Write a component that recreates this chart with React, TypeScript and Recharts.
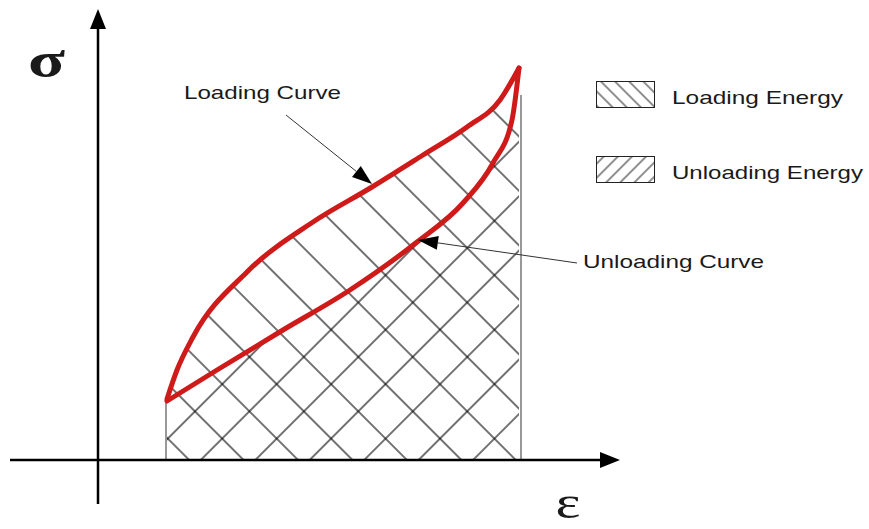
import {
  Area,
  ComposedChart,
  Legend,
  Line,
  ReferenceDot,
  ReferenceLine,
  XAxis,
  YAxis,
} from "recharts";

// loop (strain, stress in arbitrary units)
const loadingStrain = [0.69, 0.79, 0.95, 1.49, 2.15, 2.74, 3.25, 3.69, 4.02, 4.21];
const loadingStress = [0.61, 0.9, 1.23, 1.88, 2.38, 2.73, 3.05, 3.33, 3.6, 3.92];
const unloadingStrain = [0.69, 1.19, 1.85, 2.52, 3.19, 3.65, 3.95, 4.14, 4.21];
const unloadingStress = [0.59, 0.9, 1.3, 1.7, 2.18, 2.57, 2.97, 3.4, 3.92];

// sides of the hatched region
const edgeStrain = [0.68, 4.23];
const edgeStress = [0.6, 3.65];

const X_DOMAIN = [-0.98, 7.71];
const Y_DOMAIN = [-0.69, 4.6];

const legendNames = ["Loading Energy", "Unloading Energy"];
const legendWidths = [171, 191];

const noteTexts = ["Loading Curve", "Unloading Curve"];
const noteAt = [
  { x: 0.86, y: 3.61 },
  { x: 4.85, y: 1.92 },
];
const noteWidths = [157, 181];
const noteArrows = [
  [{ x: 1.88, y: 3.45 }, { x: 2.74, y: 2.76 }],
  [{ x: 4.79, y: 1.97 }, { x: 3.2, y: 2.2 }],
];

const loading = loadingStrain.map((strain, i) => ({ strain, stress: loadingStress[i] }));
const unloading = unloadingStrain.map((strain, i) => ({ strain, stress: unloadingStress[i] }));

const RED = "#cf1a1a";
const HATCH = "#000";
const SANS = "'Liberation Sans', Arial, sans-serif";
const SERIF = "'Liberation Serif', 'Times New Roman', serif";

function arrowShape(width: number, len: number, half: number, color: string) {
  return (p: any) => {
    const { x1, y1, x2, y2 } = p;
    const dx = x2 - x1;
    const dy = y2 - y1;
    const d = Math.hypot(dx, dy) || 1;
    const ux = dx / d;
    const uy = dy / d;
    const bx = x2 - ux * len;
    const by = y2 - uy * len;
    const pts = `${x2},${y2} ${bx - uy * half},${by + ux * half} ${bx + uy * half},${by - ux * half}`;
    return (
      <g>
        <line x1={x1} y1={y1} x2={bx} y2={by} stroke={color} strokeWidth={width} />
        <polygon points={pts} fill="#000" />
      </g>
    );
  };
}

function textShape(value: string, size: number, family: string, fit: number, anchor = "start", weight = "normal") {
  return (p: any) => (
    <text
      x={p.cx}
      y={p.cy}
      fontFamily={family}
      fontSize={size}
      fontWeight={weight}
      fill="#1a1a1a"
      textAnchor={anchor}
      textLength={fit}
      lengthAdjust="spacingAndGlyphs"
    >
      {value}
    </text>
  );
}

function EnergyLegend({ payload }: any) {
  const items = legendNames.filter((n) => (payload ?? []).some((e: any) => e.value === n));
  return (
    <svg width={275} height={110}>
      <defs>
        <pattern id="legendLoad" patternUnits="userSpaceOnUse" width={10} height={10} patternTransform="rotate(-45)">
          <line x1={1} y1={0} x2={1} y2={10} stroke="#222" strokeWidth={1} />
        </pattern>
        <pattern id="legendUnload" patternUnits="userSpaceOnUse" width={10} height={10} patternTransform="rotate(45)">
          <line x1={1} y1={0} x2={1} y2={10} stroke="#222" strokeWidth={1} />
        </pattern>
      </defs>
      {items.map((name, i) => {
        const y = 3 + i * 75;
        const k = legendNames.indexOf(name);
        return (
          <g key={name}>
            <rect
              x={0.5}
              y={y + 0.5}
              width={58}
              height={26}
              fill={k === 0 ? "url(#legendLoad)" : "url(#legendUnload)"}
              stroke="#222"
              strokeWidth={1}
            />
            <text
              x={76}
              y={y + 22.5}
              fontFamily={SANS}
              fontSize={18.5}
              fill="#1a1a1a"
              textLength={legendWidths[k]}
              lengthAdjust="spacingAndGlyphs"
            >
              {name}
            </text>
          </g>
        );
      })}
    </svg>
  );
}

export default function App() {
  return (
    <div style={{ position: "absolute", left: 0, top: 0, background: "#fff" }}>
      <ComposedChart width={869} height={529} margin={{ top: 0, right: 0, bottom: 0, left: 0 }}>
        <defs>
          <pattern id="hatchLoad" patternUnits="userSpaceOnUse" width={38.5} height={38.5} patternTransform="rotate(-45)">
            <line x1={1} y1={0} x2={1} y2={38.5} stroke={HATCH} strokeWidth={1.1} />
          </pattern>
          <pattern
            id="hatchUnload"
            patternUnits="userSpaceOnUse"
            width={38.5}
            height={38.5}
            patternTransform="translate(6,0) rotate(45)"
          >
            <line x1={1} y1={0} x2={1} y2={38.5} stroke={HATCH} strokeWidth={1.1} />
          </pattern>
        </defs>
        <XAxis type="number" dataKey="strain" domain={X_DOMAIN} hide allowDataOverflow />
        <YAxis type="number" domain={Y_DOMAIN} hide allowDataOverflow />

        <Area
          data={loading}
          dataKey="stress"
          name="Loading Energy"
          type="monotone"
          baseValue={0}
          stroke="none"
          fill="url(#hatchLoad)"
          fillOpacity={1}
          dot={false}
          activeDot={false}
          isAnimationActive={false}
        />
        <Area
          data={unloading}
          dataKey="stress"
          name="Unloading Energy"
          type="monotone"
          baseValue={0}
          stroke="none"
          fill="url(#hatchUnload)"
          fillOpacity={1}
          dot={false}
          activeDot={false}
          isAnimationActive={false}
        />

        {edgeStrain.map((x, i) => (
          <ReferenceLine
            key={`edge${i}`}
            segment={[{ x, y: 0 }, { x, y: edgeStress[i] }]}
            stroke="#333"
            strokeWidth={1}
          />
        ))}

        {/* axes with arrow heads */}
        <ReferenceLine
          segment={[{ x: -0.88, y: 0 }, { x: 5.22, y: 0 }]}
          shape={arrowShape(2.5, 20, 8, "#000")}
        />
        <ReferenceLine
          segment={[{ x: 0, y: -0.44 }, { x: 0, y: 4.51 }]}
          shape={arrowShape(2.5, 20, 8, "#000")}
        />

        <Line
          data={loading}
          dataKey="stress"
          legendType="none"
          type="monotone"
          stroke={RED}
          strokeWidth={5}
          strokeLinecap="round"
          dot={false}
          activeDot={false}
          isAnimationActive={false}
        />
        <Line
          data={unloading}
          dataKey="stress"
          legendType="none"
          type="monotone"
          stroke={RED}
          strokeWidth={5}
          strokeLinecap="round"
          dot={false}
          activeDot={false}
          isAnimationActive={false}
        />

        {noteArrows.map((seg, i) => (
          <ReferenceLine key={`arrow${i}`} segment={seg} shape={arrowShape(1, 20, 7, "#333")} />
        ))}
        {noteTexts.map((t, i) => (
          <ReferenceDot
            key={t}
            x={noteAt[i].x}
            y={noteAt[i].y}
            shape={textShape(t, 18.5, SANS, noteWidths[i])}
          />
        ))}

        <ReferenceDot x={-0.515} y={3.83} shape={textShape("σ", 50, SERIF, 37, "middle", "bold")} />
        <ReferenceDot x={4.7} y={-0.58} shape={textShape("ε", 47, SERIF, 25, "middle")} />

        <Legend
          layout="vertical"
          align="center"
          verticalAlign="middle"
          wrapperStyle={{ left: 596, top: 78, width: 275, height: 110 }}
          content={<EnergyLegend />}
        />
      </ComposedChart>
    </div>
  );
}
